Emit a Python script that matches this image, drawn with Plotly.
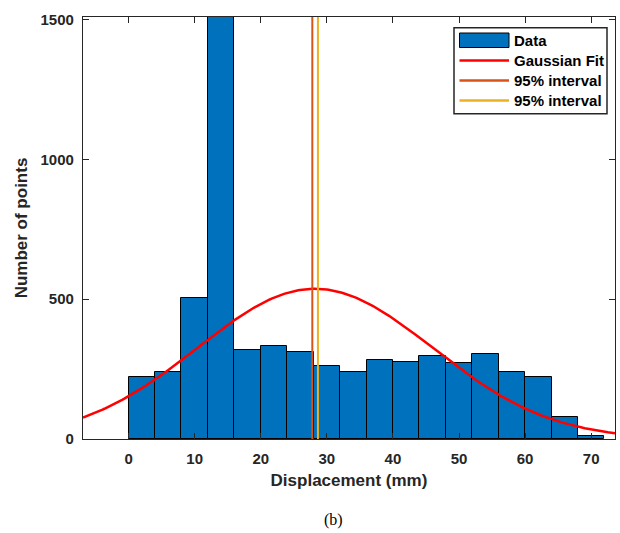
import numpy as np
import plotly.graph_objects as go

# ---- data ----
bin_left = [0, 4, 8, 12, 16, 20, 24, 28, 32, 36, 40, 44, 48, 52, 56, 60, 64, 68]
bin_counts = [223, 241, 503, 1600, 319, 333, 311, 262, 241, 284, 276, 297, 272, 304, 240, 222, 77, 9]
bin_width = 4

# Gaussian fit parameters
fit_mean = 28.2
fit_sigma = 17.8
fit_amp = 537

interval_low = 27.8
interval_high = 28.65

x_ticks = [0, 10, 20, 30, 40, 50, 60, 70]
y_ticks = [0, 500, 1000, 1500]
x_range = [-6.9, 73.6]
y_range = [0, 1509]

legend_names = ["Data", "Gaussian Fit", "95% interval", "95% interval"]

bin_centers = [b + bin_width / 2 for b in bin_left]
gx = np.linspace(x_range[0], x_range[1], 300)
gy = fit_amp * np.exp(-((gx - fit_mean) ** 2) / (2 * fit_sigma ** 2))

AX = "#262626"
FONT = "Liberation Sans, Arial, sans-serif"
BLUE, RED, ORANGE, YELLOW = "#0072BD", "#FF0000", "#D95319", "#EDB120"

W, H = 620, 533
ML, MR, MT, MB = 83, 5, 17, 94
PW, PH = W - ML - MR, H - MT - MB


def px(X):
    return (X - ML) / PW


def py(Y):
    return (H - MB - Y) / PH


fig = go.Figure()
fig.add_trace(go.Bar(x=bin_centers, y=bin_counts, width=bin_width, name=legend_names[0],
                     marker=dict(color=BLUE, line=dict(color="black", width=1))))
fig.add_trace(go.Scatter(x=gx, y=gy, mode="lines", name=legend_names[1],
                         line=dict(color=RED, width=2.5)))
fig.add_trace(go.Scatter(x=[interval_low, interval_low], y=y_range, mode="lines",
                         name=legend_names[2], line=dict(color=ORANGE, width=2)))
fig.add_trace(go.Scatter(x=[interval_high, interval_high], y=y_range, mode="lines",
                         name=legend_names[3], line=dict(color=YELLOW, width=2)))

# ---- MATLAB-style legend drawn in paper coordinates ----
shapes = [dict(type="rect", xref="paper", yref="paper", x0=px(454), x1=px(607), y0=py(113.7), y1=py(27.7),
               line=dict(color=AX, width=1.5), fillcolor="white", layer="above")]
row_y = [40.5, 60.5, 80.5, 100.5]
shapes.append(dict(type="rect", xref="paper", yref="paper", x0=px(459.5), x1=px(509), y0=py(47.5), y1=py(33),
                   line=dict(color="black", width=1), fillcolor=BLUE, layer="above"))
for col, yy in zip([RED, ORANGE, YELLOW], row_y[1:]):
    shapes.append(dict(type="line", xref="paper", yref="paper", x0=px(459.5), x1=px(509), y0=py(yy), y1=py(yy),
                       line=dict(color=col, width=2.5), layer="above"))

annotations = []
for name, yy in zip(legend_names, row_y):
    annotations.append(dict(text=name, xref="paper", yref="paper", x=px(512), y=py(yy),
                            xanchor="left", yanchor="middle", showarrow=False,
                            font=dict(family=FONT, size=15, color="black", weight="bold")))
annotations.append(dict(text="(b)", xref="paper", yref="paper", x=px(333), y=py(520),
                        showarrow=False, xanchor="center", yanchor="middle",
                        font=dict(family="Liberation Serif, Times New Roman, serif", size=16, color="black")))

fig.update_layout(
    width=W, height=H,
    margin=dict(l=ML, r=MR, t=MT, b=MB, autoexpand=False),
    paper_bgcolor="white", plot_bgcolor="white",
    bargap=0, showlegend=False,
    font=dict(family=FONT, color=AX),
    shapes=shapes, annotations=annotations,
)

fig.update_xaxes(range=x_range, tickvals=x_ticks, ticks="inside", ticklen=6, tickwidth=1,
                 tickcolor=AX, showline=True, linecolor=AX, linewidth=1.2, mirror="ticks",
                 showgrid=False, zeroline=False, automargin=False, ticklabelstandoff=6,
                 tickfont=dict(family=FONT, size=15, color=AX, weight="bold"),
                 title=dict(text="Displacement (mm)", standoff=8,
                            font=dict(family=FONT, size=17, color=AX, weight="bold")))
fig.update_yaxes(range=y_range, tickvals=y_ticks, ticks="inside", ticklen=6, tickwidth=1,
                 tickcolor=AX, showline=True, linecolor=AX, linewidth=1.2, mirror="ticks",
                 showgrid=False, zeroline=False, automargin=False, ticklabelstandoff=5,
                 tickfont=dict(family=FONT, size=15, color=AX, weight="bold"),
                 title=dict(text="Number of points", standoff=8,
                            font=dict(family=FONT, size=17, color=AX, weight="bold")))

fig.write_html("out.html", config={"displayModeBar": False},
               post_script="document.body.style.margin='0';document.body.style.overflow='hidden';")
